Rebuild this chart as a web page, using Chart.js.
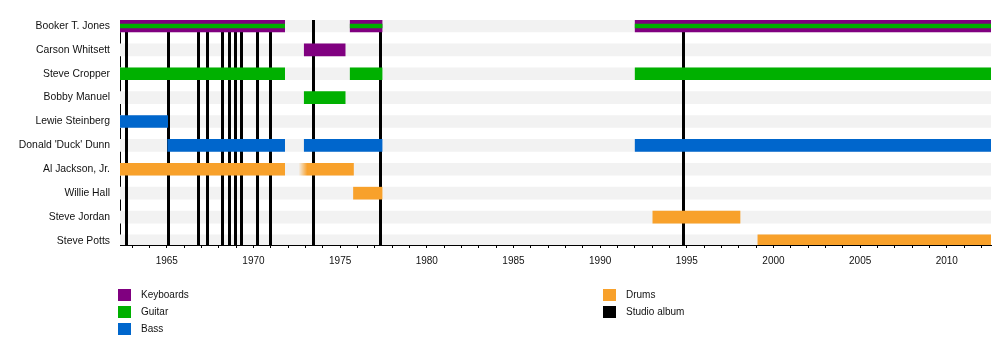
<!DOCTYPE html>
<html>
<head>
<meta charset="utf-8">
<script src="https://cdn.jsdelivr.net/npm/chart.js@4"></script>
<style>
  html, body { margin: 0; padding: 0; background: #fff; }
  #wrap { position: relative; width: 1000px; height: 345px; }
  canvas { position: absolute; left: 0; top: 0; }
  .legend { position: absolute; font: 10px "Liberation Sans", Arial, sans-serif; color: #111; }
  .legend div { height: 17px; display: flex; align-items: center; }
  .legend .sw { width: 13px; height: 12px; margin-right: 10px; display: inline-block; }
</style>
</head>
<body>
<div id="wrap">
  <canvas id="chart" width="1000" height="345"></canvas>
  <div class="legend" id="leg-left" style="left:118px;top:286px"></div>
  <div class="legend" id="leg-right" style="left:603px;top:286px"></div>
</div>
<script>
// ── Data ───────────────────────────────────────────────────────────────────
const members = [
  'Booker T. Jones', 'Carson Whitsett', 'Steve Cropper', 'Bobby Manuel',
  'Lewie Steinberg', "Donald 'Duck' Dunn", 'Al Jackson, Jr.', 'Willie Hall',
  'Steve Jordan', 'Steve Potts'
];

const X_MIN = 1962.3;
const X_MAX = 2012.55;

// [row, start, end]
const keyboards = [[0, 1962.3, 1971.8], [0, 1975.58, 1977.42], [0, 1992.02, 2012.55], [1, 1972.93, 1975.29]];
const guitar    = [[2, 1962.3, 1971.8], [2, 1975.58, 1977.42], [2, 1992.02, 2012.55], [3, 1972.93, 1975.29]];
const guitarInner = [[0, 1962.3, 1971.8], [0, 1975.58, 1977.42], [0, 1992.02, 2012.55]];
const bass      = [[4, 1962.3, 1965.05], [5, 1965.05, 1971.8], [5, 1972.93, 1977.42], [5, 1992.02, 2012.55]];
const drums     = [[6, 1962.3, 1971.8], [6, 1972.6, 1975.77], [7, 1975.77, 1977.42], [8, 1993.04, 1998.07], [9, 1999.1, 2012.55]];
const drumFade  = [[6, 1972.6, 1973.1]];

const albums = [1962.66, 1965.09, 1966.82, 1967.34, 1968.2, 1968.6, 1968.95, 1969.3,
                1970.22, 1970.97, 1973.45, 1977.31, 1994.79];

const PURPLE = '#800080';
const GREEN  = '#00b000';
const BLUE   = '#0066cc';
const ORANGE = '#f8a12b';
const STRIPE = '#f2f2f2';

const legendLeft  = [['Keyboards', PURPLE], ['Guitar', GREEN], ['Bass', BLUE]];
const legendRight = [['Drums', ORANGE], ['Studio album', '#000']];

// ── Helpers ────────────────────────────────────────────────────────────────
const toPoints = segs => segs.map(([r, a, b]) => ({ y: r, x: [a, b] }));

function drumColor(ctx) {
  const p = ctx.raw;
  const f = p && drumFade.find(d => d[0] === p.y && d[1] === p.x[0]);
  if (!f || !ctx.chart.chartArea) return ORANGE;
  const xs = ctx.chart.scales.x;
  const g = ctx.chart.ctx.createLinearGradient(xs.getPixelForValue(f[1]), 0, xs.getPixelForValue(f[2]), 0);
  g.addColorStop(0, 'rgba(248,161,43,0)');
  g.addColorStop(1, ORANGE);
  return g;
}

// album lines sit above the gray stripes, under the coloured bars
const albumLines = {
  id: 'albumLines',
  afterDatasetDraw(chart, args) {
    if (chart.data.datasets[args.index].label !== 'stripes') return;
    const { ctx, scales: { x }, chartArea } = chart;
    ctx.save();
    ctx.strokeStyle = '#000';
    ctx.lineWidth = 3;
    albums.forEach(yr => {
      const px = Math.round(x.getPixelForValue(yr)) + 0.5;
      ctx.beginPath();
      ctx.moveTo(px, chartArea.top);
      ctx.lineTo(px, chartArea.bottom);
      ctx.stroke();
    });
    ctx.restore();
  }
};

const bar = (label, data, color, thickness, order) => ({
  label, data, backgroundColor: color, barThickness: thickness,
  borderWidth: 0, grouped: false, order
});

// ── Chart ──────────────────────────────────────────────────────────────────
const FONT = { family: '"Liberation Sans", Arial, sans-serif', size: 10.4 };
const YEAR_FONT = { family: '"Liberation Sans", Arial, sans-serif', size: 10 };

new Chart(document.getElementById('chart'), {
  type: 'bar',
  data: {
    datasets: [
      bar('stripes', members.map((_, i) => ({ y: i, x: [X_MIN, X_MAX] })), STRIPE, 12, 10),
      bar('Keyboards', toPoints(keyboards), PURPLE, 12, 5),
      bar('Guitar', toPoints(guitar), GREEN, 12, 4),
      bar('Bass', toPoints(bass), BLUE, 12, 4),
      bar('Drums', toPoints(drums), drumColor, 12, 4),
      bar('GuitarInner', toPoints(guitarInner), GREEN, 4, 1),
    ]
  },
  options: {
    indexAxis: 'y',
    responsive: false,
    animation: false,
    layout: { padding: { top: 20, right: 9, bottom: 0, left: 0 } },
    plugins: { legend: { display: false }, tooltip: { enabled: false } },
    scales: {
      x: {
        type: 'linear',
        position: 'bottom',
        min: X_MIN,
        max: X_MAX,
        afterFit: s => { s.height = 100; },
        grid: { drawOnChartArea: false, drawTicks: true, tickLength: 3, color: '#000' },
        border: { display: true, color: '#000', width: 1 },
        ticks: {
          stepSize: 1,
          includeBounds: false,
          autoSkip: false,
          maxRotation: 0,
          padding: 7,
          color: '#111',
          font: YEAR_FONT,
          callback: v => (Math.abs(Math.round(v) - v) < 1e-6 && Math.round(v) % 5 === 0) ? String(Math.round(v)) : ''
        }
      },
      y: {
        type: 'linear',
        reverse: true,
        offset: false,
        min: -0.25,
        max: 9.17,
        afterFit: s => { s.width = 120; },
        afterBuildTicks: s => { s.ticks = members.map((_, i) => ({ value: i })); },
        grid: { display: false, drawTicks: false },
        border: { display: true, color: '#000', width: 1 },
        ticks: {
          autoSkip: false,
          padding: 10,
          color: '#111',
          font: FONT,
          callback: v => members[v]
        }
      }
    }
  },
  plugins: [albumLines]
});

// ── Legend ─────────────────────────────────────────────────────────────────
function fillLegend(id, items) {
  document.getElementById(id).innerHTML = items.map(([name, color]) =>
    `<div><span class="sw" style="background:${color}"></span>${name}</div>`).join('');
}
fillLegend('leg-left', legendLeft);
fillLegend('leg-right', legendRight);
</script>
</body>
</html>
